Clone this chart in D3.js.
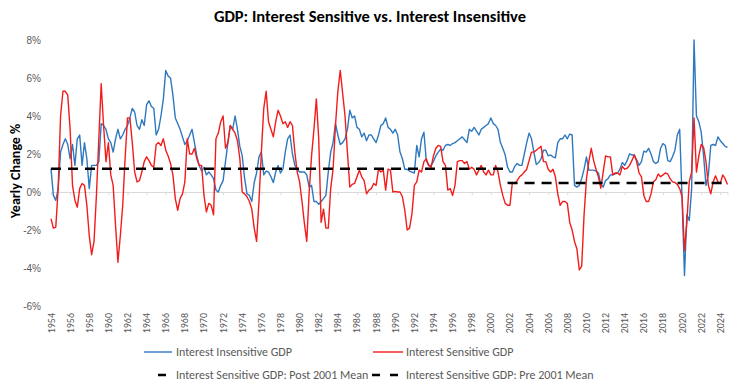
<!DOCTYPE html>
<html>
<head>
<meta charset="utf-8">
<script src="https://cdn.jsdelivr.net/npm/d3@7"></script>
<style>
  body { margin: 0; background: #fff; }
  svg { font-family: Carlito, Lato, "Open Sans", sans-serif; }
</style>
</head>
<body>
<svg id="chart" width="741" height="386"></svg>
<script>
// quarterly yearly % change, 1954 Q1 .. 2024 Q4
const startYear = 1954;
const insensitive = [
  1.23, -0.18, -0.44, 0.18, 2.1, 2.5, 2.8, 2.5, 1.75, 2.5, 1.4, 2.8,
  3.0, 1.4, 2.6, 1.75, 0.18, 1.4, 1.4, 1.4, 1.6, 3.6, 3.5, 3.3,
  2.8, 2.6, 2.1, 2.8, 3.3, 2.8, 3.0, 3.3, 3.5, 3.9, 4.4, 4.2,
  3.5, 3.3, 3.8, 3.5, 4.6, 4.8, 4.5, 4.4, 3.0, 3.3, 4.0, 4.9,
  6.4, 6.1, 6.0, 5.1, 3.9, 3.6, 3.3, 2.9, 2.5, 2.7, 3.0, 3.3,
  2.6, 1.9, 1.4, 1.1, 1.3, 0.9, 1.05, 0.9, 0.7, 0.1, 0.0, 0.35,
  0.6, 1.6, 2.6, 3.5, 3.3, 4.0, 3.3, 2.4, 1.9, 0.7, -0.1, -0.18,
  -0.5, 0.5, 1.0, 1.85, 2.1, 0.9, 1.1, 1.05, 0.8, 0.5, 1.05, 1.4,
  1.0, 1.2, 2.1, 2.8, 3.0, 2.0, 1.4, 1.2, 1.05, 1.05, 1.05, 0.9,
  0.26, 0.35, -0.5, -0.5, -0.65, -0.5, -0.35, -0.18, 1.05, 2.1, 2.6, 3.6,
  3.0, 2.5, 2.6, 2.8, 3.3, 4.3, 3.9, 4.0, 3.4, 3.3, 2.9, 3.1,
  2.7, 3.0, 3.0, 2.8, 2.6, 3.0, 3.5, 3.6, 3.9, 3.4, 3.3, 3.1,
  3.3, 3.0, 2.1, 1.75, 1.2, 1.2, 1.1, 1.05, 1.0, 2.45, 1.85, 2.8,
  3.15, 1.65, 1.4, 1.4, 1.6, 1.9, 2.1, 2.25, 2.2, 2.45, 2.5, 2.45,
  2.55, 2.6, 2.7, 2.8, 2.9, 2.75, 2.6, 3.3, 3.2, 3.4, 3.2, 3.0,
  3.3, 3.4, 3.5, 3.6, 3.9, 3.6, 3.5, 3.3, 2.6, 2.3, 1.95, 1.3,
  1.05, 1.05, 1.35, 1.5, 1.4, 1.4, 2.0, 2.6, 3.1, 2.8, 2.1, 1.45,
  1.55, 1.75, 2.2, 2.2, 1.9, 1.95, 1.85, 1.8, 2.6, 2.8, 2.8, 3.0,
  2.8, 3.05, 3.0, 0.35, 0.26, 0.35, 0.7, 1.2, 1.85, 1.15, 1.15, 1.15,
  1.1, 1.0, 0.4, 0.26, 0.6, 0.7, 0.9, 0.9, 0.95, 1.0, 1.2, 1.55,
  1.4, 1.65, 2.0, 1.95, 1.95, 1.7, 1.4, 1.6, 2.15, 2.1, 2.3, 2.0,
  1.6, 1.5, 1.6, 2.3, 2.55, 2.45, 1.65, 1.6, 1.85, 2.2, 3.0, 3.3,
  -0.35, -4.4, -1.2, -1.5, 0.18, 8.0, 4.0, 3.7, 3.15, 1.9, 0.35, 0.9,
  2.45, 2.5, 2.45, 2.9, 2.7, 2.55, 2.4, 2.35
];
const sensitive = [
  -1.4, -1.9, -1.85, 0.18, 4.0, 5.3, 5.3, 5.1, 3.3, 0.35, -0.44, -0.8,
  0.18, 0.45, 0.35, -0.7, -2.3, -3.3, -2.6, -0.18, 2.8, 5.7, 3.5, 1.6,
  2.6, 0.9, 0.35, -1.75, -3.7, -2.3, -0.7, 1.75, 3.9, 3.9, 2.6, 1.05,
  0.53, 0.6, 1.05, 1.6, 1.85, 1.65, 1.4, 1.3, 2.5, 2.6, 2.45, 2.8,
  2.2, 1.9, 1.5, 0.9, -0.35, -0.96, -0.35, -0.1, 0.53, 2.8, 2.0, 2.0,
  2.3, 1.75, 1.4, 1.4, -0.18, -1.05, -0.6, -0.7, -1.2, 2.8, 3.1, 3.7,
  4.0, 2.3, 2.6, 3.5, 3.3, 3.1, 2.7, 1.75, 0.0, -0.1, -0.25, -0.5,
  -0.9, -1.9, -2.6, -0.5, 2.1, 4.4, 5.3, 3.7, 3.3, 2.9, 3.7, 4.3,
  4.0, 3.6, 3.7, 3.4, 3.7, 3.5, 2.1, 1.05, 0.53, -0.5, -1.65, -2.6,
  0.0, 1.9, 3.3, 4.9, 2.8, -1.6, -0.9, -1.9, -1.9, 0.18, 1.2, 3.5,
  5.3, 6.4, 5.2, 4.0, 2.1, 0.26, 0.4, 0.45, 0.8, 1.15, 0.8, 0.6,
  -0.1, 0.1, 0.18, 0.45, 0.35, 1.2, 1.05, 1.15, 0.1, 1.2, 1.15, 0.0,
  0.03, 0.0, 0.0, -0.25, -0.96, -2.0, -1.9, -1.15, 0.35, 0.53, 1.15, 1.05,
  1.6, 1.75, 1.4, 1.3, 1.9, 2.3, 2.45, 2.4, 1.6, 1.4, 0.1, 0.18,
  -0.18, 0.35, 1.6, 1.65, 1.65, 1.5, 1.6, 1.2, 1.3, 1.2, 0.9, 1.15,
  1.4, 1.05, 0.9, 1.15, 0.9, 0.9, 1.4, 1.05, 0.35, -0.18, -0.6, -0.7,
  -0.7, 0.5, 0.45, 0.6, 0.8, 0.9, 1.05, 1.2, 1.65, 2.1, 2.1, 2.2,
  2.3, 2.4, 1.6, 1.6, 1.2, 1.05, 1.2, 0.8, -0.1, -0.7, -0.5, -0.5,
  -0.6, -1.6, -2.0, -2.6, -3.0, -4.1, -3.9, -1.2, 0.7, 1.6, 2.3, 1.65,
  1.2, 0.8, 0.2, 1.05, 1.9, 1.85, 1.85, 0.9, 1.0, 1.0, 0.9, 1.35,
  1.2, 1.25, 1.4, 1.65, 1.95, 1.6, 1.0, 0.8, -0.18, -0.5, -0.5, -0.1,
  0.53, 0.65, 0.95, 0.8, 0.9, 1.0, 0.95, 0.7, 0.53, 0.5, 0.4, 0.18,
  -0.25, -3.1, -1.6, 0.55, 1.05, 3.9, 1.05, 1.9, 2.5, 2.35, 1.6, 0.35,
  -0.1, 0.53, 0.85, 0.53, 0.45, 0.9, 0.7, 0.4
];
// mean lines: [from, to, value]
const preMean = [1954, 2001.5, 1.22];
const postMean = [2001.75, 2024.75, 0.48];

const yTicks = [-6, -4, -2, 0, 2, 4, 6, 8];
const xTickYears = [1954, 1956, 1958, 1960, 1962, 1964, 1966, 1968, 1970, 1972,
  1974, 1976, 1978, 1980, 1982, 1984, 1986, 1988, 1990, 1992, 1994, 1996,
  1998, 2000, 2002, 2004, 2006, 2008, 2010, 2012, 2014, 2016, 2018, 2020,
  2022, 2024];

const svg = d3.select("svg#chart");
const grey = "#595959";
const blue = "#2e78bf";
const red = "#f21c1c";

const x = d3.scaleLinear().domain([1954, 2024.75]).range([51, 727.5]);
const y = d3.scaleLinear().domain([-6, 8]).range([306, 40]);

const toPoints = (arr) => arr.map((v, i) => ({ t: startYear + i / 4, v: v }));

// title
svg.append("text")
  .attr("x", 370).attr("y", 22)
  .attr("text-anchor", "middle")
  .attr("font-weight", "bold")
  .attr("font-size", "16.5px")
  .attr("fill", "#000")
  .text("GDP: Interest Sensitive vs. Interest Insensitive");

// y axis labels
const yAxis = svg.append("g")
  .attr("transform", "translate(44,0)")
  .call(d3.axisLeft(y).tickValues(yTicks).tickSize(0).tickPadding(3)
    .tickFormat((d) => d + "%"));
yAxis.select(".domain").remove();
yAxis.selectAll("text").attr("fill", grey).attr("font-size", "10px")
  .attr("font-family", null);

svg.append("text")
  .attr("transform", `translate(20,${171}) rotate(-90)`)
  .attr("text-anchor", "middle")
  .attr("font-weight", "bold")
  .attr("font-size", "14px")
  .text("Yearly Change %");

// zero axis with ticks
const xAxis = svg.append("g")
  .attr("transform", `translate(0,${y(0)})`)
  .call(d3.axisBottom(x).tickValues(xTickYears).tickSize(3).tickFormat(""));
xAxis.select(".domain").attr("stroke", "#d9d9d9");
xAxis.selectAll(".tick line").attr("stroke", "#d9d9d9");

// year labels along bottom
svg.append("g")
  .selectAll("text")
  .data(xTickYears)
  .join("text")
  .attr("transform", (d) => `translate(${x(d) + 3.5},313) rotate(-90)`)
  .attr("text-anchor", "end")
  .attr("font-size", "10px")
  .attr("fill", grey)
  .text((d) => d);

const lineGen = d3.line().x((d) => x(d.t)).y((d) => y(d.v));

svg.append("path")
  .datum(toPoints(insensitive))
  .attr("fill", "none")
  .attr("stroke", blue)
  .attr("stroke-width", 1.4)
  .attr("stroke-linejoin", "round")
  .attr("d", lineGen);

svg.append("path")
  .datum(toPoints(sensitive))
  .attr("fill", "none")
  .attr("stroke", red)
  .attr("stroke-width", 1.4)
  .attr("stroke-linejoin", "round")
  .attr("d", lineGen);

[preMean, postMean].forEach((m) => {
  svg.append("line")
    .attr("x1", x(m[0])).attr("x2", x(m[1]))
    .attr("y1", y(m[2])).attr("y2", y(m[2]))
    .attr("stroke", "#000")
    .attr("stroke-width", 2.5)
    .attr("stroke-dasharray", "10,7");
});

// legend
const legend = [
  { name: "Interest Insensitive GDP", color: blue, dash: null, w: 1.4, lx: 144, row: 0 },
  { name: "Interest Sensitive GDP", color: red, dash: null, w: 1.4, lx: 373, row: 0 },
  { name: "Interest Sensitive GDP: Post 2001 Mean", color: "#000", dash: "8,10", w: 2.5, lx: 158, row: 1 },
  { name: "Interest Sensitive GDP: Pre 2001 Mean", color: "#000", dash: "8,10", w: 2.5, lx: 372, row: 1 }
];
const lg = svg.append("g").selectAll("g").data(legend).join("g")
  .attr("transform", (d) => `translate(0,${d.row === 0 ? 352 : 375})`);
lg.append("line")
  .attr("x1", (d) => d.lx)
  .attr("x2", (d) => (d.lx < 300 ? 172 : 403))
  .attr("y1", 0).attr("y2", 0)
  .attr("stroke", (d) => d.color)
  .attr("stroke-width", (d) => d.w)
  .attr("stroke-dasharray", (d) => d.dash);
lg.append("text")
  .attr("x", (d) => (d.lx < 300 ? 176 : 406))
  .attr("y", 4)
  .attr("font-size", "12px")
  .attr("fill", grey)
  .text((d) => d.name);
</script>
</body>
</html>
